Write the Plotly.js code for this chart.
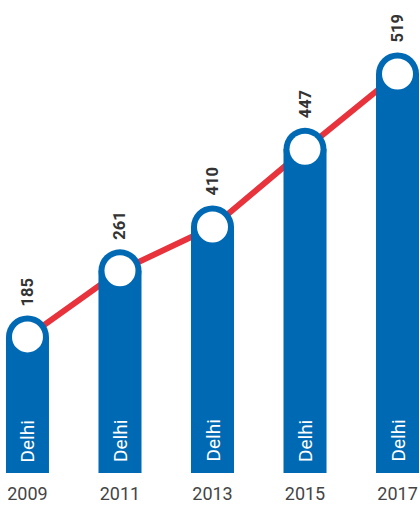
<!DOCTYPE html>
<html>
<head>
<meta charset="utf-8">
<script src="https://cdn.plot.ly/plotly-3.0.1.min.js"></script>
<style>
html,body{margin:0;padding:0;background:#fff;}
#chart{width:420px;height:506px;}
</style>
</head>
<body>
<div id="chart"></div>
<script>
// Data
var years = ['2009', '2011', '2013', '2015', '2017'];
var cityLabel = ['Delhi', 'Delhi', 'Delhi', 'Delhi', 'Delhi'];
var values = [185, 261, 410, 447, 519];          // printed labels
var drawnHeights = [177, 263, 320, 421, 519];    // heights as drawn in the picture

var BLUE = '#0069b4';
var RED = '#e8323c';
var xs = years.map(function (_, i) { return i; });

var traces = [
  { // red connecting line (behind the bars)
    type: 'scatter', mode: 'lines', x: xs, y: drawnHeights,
    xaxis: 'x', yaxis: 'y',
    line: { color: RED, width: 6 }, hoverinfo: 'skip', showlegend: false
  },
  { // bars
    type: 'bar', x: xs, y: drawnHeights, width: 0.465,
    xaxis: 'x2', yaxis: 'y2',
    marker: { color: BLUE, line: { width: 0 } }, hoverinfo: 'skip', showlegend: false
  },
  { // rounded bar caps
    type: 'scatter', mode: 'markers', x: xs, y: drawnHeights,
    xaxis: 'x2', yaxis: 'y2',
    marker: { color: BLUE, size: 43, line: { width: 0 } }, hoverinfo: 'skip', showlegend: false
  },
  { // white dots
    type: 'scatter', mode: 'markers', x: xs, y: drawnHeights,
    xaxis: 'x2', yaxis: 'y2',
    marker: { color: '#ffffff', size: 31, line: { width: 0 } }, hoverinfo: 'skip', showlegend: false
  }
];

var annotations = [];
xs.forEach(function (x, i) {
  annotations.push({
    x: x, y: drawnHeights[i], xref: 'x', yref: 'y',
    text: String(values[i]), showarrow: false, textangle: -90,
    xanchor: 'center', yanchor: 'bottom', yshift: 29,
    font: { family: 'Roboto, sans-serif', size: 16.5, color: '#333333', weight: 'bold' }
  });
  annotations.push({
    x: x, y: 0, xref: 'x', yref: 'y',
    text: cityLabel[i], showarrow: false, textangle: -90,
    xanchor: 'center', yanchor: 'bottom', yshift: 9,
    font: { family: 'Roboto, sans-serif', size: 19, color: '#ffffff' }
  });
});

var xr = [-0.297, 4.243];
var yr = [0, 615.2];
var layout = {
  width: 420, height: 506,
  margin: { l: 0, r: 0, t: 0, b: 33, pad: 0 },
  paper_bgcolor: '#ffffff', plot_bgcolor: '#ffffff',
  showlegend: false,
  xaxis: {
    range: xr, tickvals: xs, ticktext: years, showgrid: false, zeroline: false,
    showline: false, ticks: '', ticklabelstandoff: 8,
    tickfont: { family: 'Roboto, sans-serif', size: 18, color: '#444444' }, fixedrange: true
  },
  yaxis: { range: yr, visible: false, showgrid: false, zeroline: false, fixedrange: true },
  xaxis2: { range: xr, overlaying: 'x', visible: false, showgrid: false, zeroline: false },
  yaxis2: { range: yr, overlaying: 'y', visible: false, showgrid: false, zeroline: false },
  annotations: annotations
};

Plotly.newPlot('chart', traces, layout, { displayModeBar: false, staticPlot: true });
</script>
</body>
</html>
